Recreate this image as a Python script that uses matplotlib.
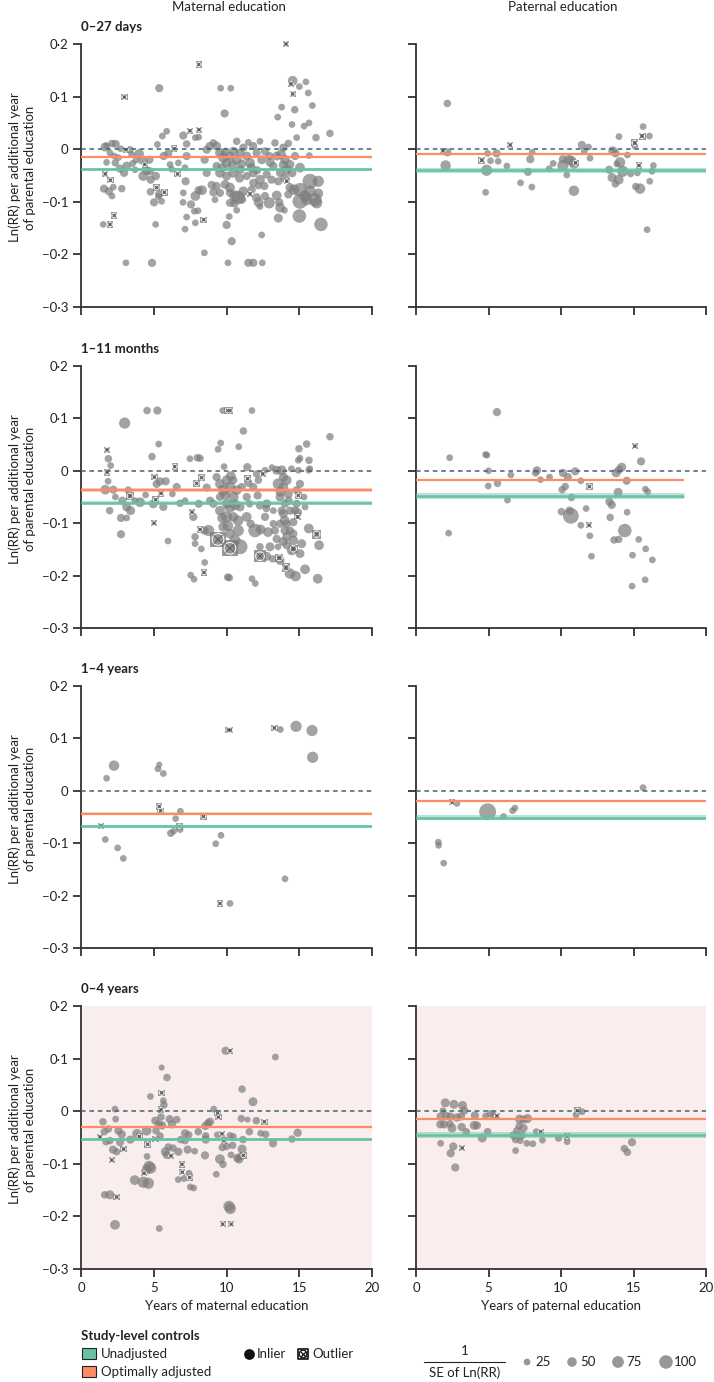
import matplotlib
matplotlib.use("Agg")
import matplotlib.pyplot as plt
from matplotlib.patches import Rectangle

plt.rcParams['font.family'] = ['Lato', 'DejaVu Sans']

# ---- data: (years of education, ln(RR) per extra year, 1/SE) ----
neo_mat_in = [
    (5.38, 0.116, 37), (9.60, 0.116, 25), (10.29, 0.116, 25), (9.87, 0.068, 37), (14.55, 0.130, 52),
    (15.01, 0.119, 25), (15.46, 0.128, 25), (15.62, 0.107, 25), (15.90, 0.083, 25), (14.69, 0.075, 31),
    (13.79, 0.080, 25), (13.52, 0.061, 25), (14.50, 0.047, 25), (14.82, 0.022, 25), (15.33, 0.044, 25),
    (15.67, 0.050, 25), (16.15, 0.022, 31), (17.11, 0.030, 31), (15.69, -0.012, 25), (1.65, 0.004, 44),
    (2.38, 0.010, 37), (3.37, -0.001, 31), (2.73, 0.001, 25), (1.76, -0.025, 25), (2.36, -0.026, 31),
    (2.68, -0.037, 37), (2.96, -0.045, 37), (2.80, -0.075, 31), (2.22, -0.072, 25), (1.58, -0.075, 37),
    (1.92, -0.080, 37), (2.13, -0.089, 25), (1.53, -0.143, 25), (3.09, -0.216, 25), (4.88, -0.216, 37),
    (3.99, -0.009, 52), (4.22, -0.022, 37), (4.70, -0.020, 37), (4.28, -0.051, 52), (4.51, -0.041, 44),
    (4.74, -0.042, 37), (4.79, -0.058, 37), (5.15, -0.051, 37), (5.25, 0.009, 25), (5.59, 0.025, 25),
    (5.89, 0.034, 25), (5.68, -0.013, 37), (6.00, -0.008, 37), (6.12, -0.029, 25), (6.23, -0.038, 25),
    (6.69, -0.026, 25), (4.77, -0.081, 31), (5.02, -0.101, 37), (5.38, -0.085, 37), (5.13, -0.143, 25),
    (5.32, -0.090, 25), (5.54, -0.099, 25), (7.03, 0.026, 37), (7.26, 0.010, 31), (7.26, -0.013, 37),
    (7.15, -0.035, 25), (7.19, -0.061, 37), (7.03, -0.083, 25), (7.01, -0.101, 25), (7.26, -0.129, 25),
    (7.15, -0.152, 25), (7.56, -0.105, 37), (7.86, -0.089, 52), (8.09, -0.078, 37), (7.79, -0.118, 25),
    (8.04, -0.117, 25), (7.86, -0.140, 25), (8.48, -0.197, 25), (8.50, -0.020, 37), (8.84, 0.006, 37),
    (8.64, -0.045, 37), (8.98, -0.068, 37), (9.10, -0.082, 37), (8.32, -0.078, 52), (8.09, 0.023, 25),
    (7.86, 0.022, 25), (9.32, 0.006, 44), (9.55, -0.007, 52), (9.78, -0.016, 60), (10.01, -0.026, 52),
    (10.24, -0.013, 44), (10.47, -0.004, 44), (10.70, -0.020, 52), (10.93, -0.007, 44), (11.16, 0.003, 37),
    (11.39, -0.013, 44), (11.62, -0.026, 52), (11.84, 0.006, 37), (12.07, -0.007, 37), (12.42, -0.020, 44),
    (12.65, -0.004, 37), (12.94, -0.013, 37), (13.45, -0.013, 44), (13.75, -0.010, 52), (14.02, -0.020, 52),
    (14.36, -0.029, 44), (14.71, -0.013, 37), (15.05, -0.035, 52), (13.22, -0.032, 37), (13.68, -0.045, 37),
    (14.14, -0.039, 52), (9.32, -0.032, 37), (9.55, -0.045, 52), (10.01, -0.051, 44), (10.47, -0.045, 52),
    (10.93, -0.039, 44), (11.39, -0.051, 37), (11.84, -0.045, 44), (12.30, -0.058, 52), (12.76, -0.048, 37),
    (13.10, -0.058, 37), (13.56, -0.061, 37), (9.90, -0.067, 44), (10.24, -0.073, 52), (10.58, -0.089, 69),
    (10.81, -0.092, 100), (10.24, -0.083, 37), (9.55, -0.083, 37), (11.16, -0.080, 52), (11.73, -0.077, 37),
    (12.07, -0.092, 44), (12.65, -0.089, 37), (12.21, -0.101, 52), (12.94, -0.102, 69), (9.32, -0.070, 37),
    (9.21, -0.096, 25), (10.54, -0.103, 37), (10.24, -0.102, 37), (10.70, -0.116, 25), (10.19, -0.128, 25),
    (10.01, -0.144, 37), (10.36, -0.175, 37), (10.10, -0.216, 25), (11.50, -0.216, 37), (11.84, -0.216, 37),
    (12.46, -0.216, 25), (12.30, -0.109, 25), (12.42, -0.163, 25), (11.07, -0.096, 37), (12.19, -0.070, 25),
    (11.84, -0.064, 37), (13.45, -0.088, 52), (13.63, -0.101, 37), (13.68, -0.111, 52), (13.56, -0.131, 44),
    (13.98, -0.116, 25), (15.05, -0.077, 100), (15.51, -0.096, 69), (15.74, -0.061, 123), (16.31, -0.061, 69),
    (16.08, -0.096, 100), (15.74, -0.080, 69), (15.01, -0.127, 100), (16.49, -0.143, 100), (15.40, -0.089, 69),
    (14.64, -0.077, 60), (15.05, -0.099, 123), (14.25, -0.086, 37), (14.36, -0.073, 44), (16.31, -0.084, 52),
    (16.20, -0.102, 69), (1.99, -0.007, 25), (2.29, -0.013, 25), (2.57, -0.016, 25), (3.48, -0.010, 25),
    (3.78, -0.021, 25), (3.55, -0.027, 25), (3.14, -0.032, 44), (3.71, -0.039, 25), (1.76, 0.007, 25),
    (2.13, 0.011, 31), (8.64, -0.001, 37), (9.10, 0.012, 31), (10.70, 0.015, 31), (11.50, 0.013, 25),
    (12.30, 0.015, 25), (13.33, 0.012, 31), (13.91, 0.003, 37), (14.25, 0.011, 31),
    (9.70, -0.035, 44), (10.40, -0.030, 52), (11.05, -0.028, 44), (11.70, -0.035, 44), (12.10, -0.040, 37),
    (13.00, -0.025, 44), (13.90, -0.030, 44), (14.50, -0.045, 44), (14.00, -0.055, 44), (9.90, -0.005, 37),
    (10.90, -0.055, 44), (12.60, -0.070, 37),
]
neo_mat_out = [
    (14.09, 0.200, 20), (8.09, 0.161, 20), (2.98, 0.099, 20), (2.29, -0.126, 20), (1.99, -0.143, 20),
    (8.43, -0.134, 20), (11.62, -0.085, 20), (14.55, 0.105, 20), (14.43, 0.124, 20), (1.67, -0.047, 20),
    (2.02, -0.059, 20), (6.39, 0.001, 20), (5.73, -0.082, 20), (6.64, -0.047, 20), (7.49, 0.035, 20),
    (8.11, 0.037, 20), (4.38, -0.029, 20), (3.09, -0.001, 20), (14.14, -0.061, 20), (5.20, -0.073, 20),
]
neo_pat_in = [
    (2.16, 0.087, 31), (2.16, -0.006, 37), (2.04, -0.031, 60), (4.80, -0.082, 25), (4.87, -0.040, 69),
    (4.94, -0.008, 25), (5.14, -0.022, 25), (5.56, -0.008, 37), (5.67, -0.023, 25), (6.27, -0.032, 25),
    (7.21, -0.064, 25), (7.72, -0.043, 37), (7.88, -0.019, 37), (8.01, -0.006, 25), (7.99, -0.072, 25),
    (9.18, -0.037, 25), (9.46, -0.027, 25), (10.13, -0.031, 69), (10.13, -0.019, 37), (10.40, -0.049, 25),
    (10.54, -0.020, 52), (10.72, -0.022, 52), (10.89, -0.028, 52), (10.89, -0.079, 60), (11.44, 0.008, 37),
    (11.60, -0.004, 25), (11.90, 0.004, 25), (12.00, -0.017, 25), (13.32, -0.039, 37), (13.57, -0.003, 44),
    (13.76, -0.008, 37), (14.00, 0.024, 25), (13.85, -0.028, 25), (14.07, -0.025, 60), (14.26, -0.042, 69),
    (13.52, -0.054, 44), (13.98, -0.058, 52), (13.75, -0.066, 31), (14.58, -0.011, 25), (14.81, -0.047, 25),
    (15.16, -0.071, 31), (15.45, -0.075, 60), (15.27, -0.045, 25), (15.09, 0.006, 25), (15.66, 0.043, 25),
    (16.10, 0.025, 25), (16.37, -0.031, 25), (16.28, -0.042, 25), (16.12, -0.061, 25), (15.94, -0.153, 25),
]
neo_pat_out = [
    (1.86, -0.003, 20), (4.54, -0.021, 25), (6.50, 0.008, 20), (11.00, -0.026, 20), (15.09, 0.012, 25),
    (15.59, 0.025, 25), (15.38, -0.031, 20),
]

inf_mat_in = [
    (3.00, 0.091, 69), (4.54, 0.115, 31), (5.25, 0.115, 37), (11.75, 0.115, 25), (5.34, 0.051, 25),
    (4.88, 0.027, 31), (1.88, 0.023, 31), (2.04, 0.010, 25), (1.86, -0.020, 25), (1.67, -0.036, 52),
    (2.22, -0.036, 37), (1.97, -0.076, 31), (2.75, -0.090, 37), (2.75, -0.121, 37), (3.14, -0.090, 25),
    (2.36, -0.050, 25), (2.84, -0.057, 37), (3.14, -0.069, 44), (3.41, -0.076, 44), (3.25, -0.037, 31),
    (3.71, -0.057, 25), (4.06, -0.060, 52), (4.44, -0.046, 25), (4.97, -0.063, 44), (5.20, -0.025, 37),
    (5.43, -0.020, 37), (5.82, -0.020, 37), (5.66, -0.069, 37), (5.98, -0.134, 25), (6.28, -0.044, 25),
    (6.58, -0.031, 37), (6.80, -0.062, 31), (7.15, -0.057, 25), (7.49, 0.023, 25), (8.00, 0.025, 31),
    (8.18, 0.024, 31), (8.09, -0.063, 37), (7.72, -0.088, 37), (7.84, -0.126, 31), (7.84, -0.139, 25),
    (8.27, -0.149, 25), (8.50, -0.175, 25), (7.54, -0.199, 25), (7.77, -0.207, 25), (8.50, -0.114, 37),
    (8.64, -0.032, 37), (8.87, -0.057, 37), (8.77, -0.114, 69), (9.10, -0.063, 37), (9.42, 0.041, 25),
    (9.60, 0.053, 25), (9.83, 0.008, 25), (9.74, 0.115, 25), (10.84, 0.046, 25), (11.16, 0.076, 31),
    (11.43, 0.007, 37), (11.59, -0.063, 31), (9.32, -0.012, 37), (9.55, -0.025, 52), (9.78, -0.037, 69),
    (10.01, -0.018, 52), (10.24, -0.031, 60), (10.47, -0.050, 60), (10.70, -0.037, 52), (10.24, -0.069, 69),
    (10.01, -0.088, 69), (10.47, -0.088, 52), (10.81, -0.114, 69), (10.58, -0.133, 69), (10.93, -0.145, 123),
    (9.78, -0.107, 52), (9.55, -0.076, 52), (10.93, -0.069, 44), (11.39, -0.088, 52), (10.24, -0.120, 52),
    (11.04, -0.031, 37), (10.01, -0.063, 52), (9.55, -0.050, 37), (11.39, -0.050, 37), (10.47, -0.018, 37),
    (12.07, -0.006, 31), (11.84, -0.031, 37), (12.14, -0.047, 37), (11.96, -0.114, 100), (12.35, -0.112, 52),
    (12.65, -0.088, 37), (11.66, -0.101, 37), (12.74, -0.072, 31), (11.50, -0.023, 37), (12.19, -0.018, 31),
    (12.76, -0.063, 44), (12.30, -0.066, 37), (12.30, -0.145, 31), (12.99, -0.145, 44), (12.76, -0.163, 44),
    (10.08, -0.203, 31), (10.19, -0.204, 31), (11.75, -0.206, 25), (11.98, -0.215, 25), (13.33, -0.114, 37),
    (13.45, -0.130, 37), (13.45, 0.001, 44), (13.79, 0.001, 52), (13.91, -0.012, 44), (13.56, -0.025, 69),
    (13.91, -0.031, 52), (14.14, -0.018, 52), (14.25, -0.044, 44), (13.68, -0.050, 44), (14.02, -0.063, 37),
    (14.36, -0.076, 37), (13.91, -0.082, 44), (14.14, -0.101, 37), (14.36, -0.114, 37), (14.59, -0.120, 37),
    (14.14, -0.126, 44), (14.59, -0.133, 52), (14.14, -0.142, 37), (14.02, -0.114, 44), (14.59, -0.098, 37),
    (14.71, -0.076, 37), (13.68, -0.101, 37), (13.54, -0.145, 25), (14.36, -0.196, 60), (14.75, -0.201, 60),
    (15.40, -0.188, 52), (16.27, -0.206, 52), (16.36, -0.142, 52), (15.65, -0.110, 52), (14.94, 0.020, 25),
    (15.05, 0.024, 25), (14.98, 0.042, 31), (15.51, 0.051, 31), (15.67, 0.020, 31), (15.72, 0.004, 25),
    (15.65, 0.001, 25), (17.11, 0.065, 31), (14.94, 0.001, 25), (15.05, -0.025, 37), (15.33, -0.050, 25),
    (14.82, -0.063, 37), (15.40, -0.069, 25), (14.91, -0.079, 37), (15.17, -0.139, 44), (13.17, -0.168, 31),
    (13.68, -0.171, 44), (14.48, -0.152, 52), (13.13, 0.006, 25), (13.22, -0.101, 31), (12.65, 0.001, 25),
    (14.46, 0.004, 25), (14.82, -0.037, 37), (14.27, -0.057, 37), (13.79, -0.076, 37), (15.05, -0.158, 44),
    (12.85, -0.117, 52), (13.22, -0.076, 25),
    (9.90, -0.045, 60), (10.30, -0.010, 52), (10.60, -0.065, 60), (9.70, -0.090, 52), (10.80, -0.095, 60),
    (10.10, -0.105, 60), (13.70, -0.040, 52), (14.00, -0.095, 52), (13.90, -0.135, 44),
]
inf_mat_out = [
    (1.79, 0.040, 20), (1.79, -0.003, 20), (3.37, -0.048, 31), (5.04, -0.012, 20), (5.13, -0.055, 20),
    (5.02, -0.100, 20), (6.44, 0.008, 20), (7.63, -0.079, 20), (8.29, -0.013, 20), (7.95, -0.024, 20),
    (8.18, -0.112, 20), (8.45, -0.194, 20), (10.08, 0.115, 20), (10.24, 0.115, 20), (9.42, -0.131, 123),
    (10.24, -0.148, 123), (12.30, -0.163, 69), (13.63, -0.166, 31), (14.09, -0.185, 37), (14.59, -0.149, 37),
    (14.89, -0.088, 25), (16.20, -0.121, 37), (11.45, -0.015, 20), (12.49, -0.006, 20), (14.94, -0.047, 20),
    (5.50, -0.043, 20),
]
inf_pat_in = [
    (2.32, 0.025, 25), (2.25, -0.119, 25), (5.58, 0.112, 37), (4.80, 0.031, 25), (4.89, 0.030, 25),
    (5.00, 0.000, 25), (4.98, -0.029, 25), (5.62, -0.024, 31), (6.31, -0.056, 25), (6.54, -0.008, 25),
    (8.34, 0.001, 37), (8.25, -0.004, 31), (8.59, -0.017, 25), (9.21, -0.012, 25), (10.13, -0.004, 37),
    (10.47, -0.012, 37), (10.98, -0.001, 37), (11.37, -0.019, 25), (10.29, -0.030, 31), (10.08, -0.036, 31),
    (10.72, -0.051, 31), (10.03, -0.078, 31), (10.59, -0.076, 37), (10.68, -0.086, 136), (11.37, -0.104, 25),
    (11.73, -0.072, 25), (11.99, -0.124, 25), (12.10, -0.163, 25), (13.80, -0.004, 44), (14.19, 0.007, 44),
    (14.00, 0.002, 37), (14.53, -0.019, 37), (13.94, -0.041, 44), (13.34, -0.059, 37), (13.50, -0.065, 37),
    (13.39, -0.089, 31), (14.56, -0.079, 25), (14.40, -0.114, 100), (13.66, -0.132, 31), (13.98, -0.131, 31),
    (14.93, -0.161, 25), (14.90, -0.220, 25), (15.52, 0.018, 37), (15.82, -0.035, 25), (15.98, -0.040, 25),
    (15.36, -0.131, 25), (15.84, -0.149, 25), (16.30, -0.170, 25), (15.80, -0.208, 25),
]
inf_pat_out = [(15.09, 0.047, 20), (11.96, -0.030, 20), (11.94, -0.104, 20)]

chi_mat_in = [
    (1.67, -0.093, 25), (1.76, 0.024, 25), (2.27, 0.048, 60), (2.52, -0.109, 25), (2.91, -0.129, 25),
    (5.29, 0.042, 25), (5.38, 0.050, 20), (5.66, 0.033, 25), (6.51, -0.053, 25), (6.17, -0.081, 31),
    (6.37, -0.077, 25), (6.83, -0.039, 25), (6.81, -0.074, 25), (9.26, -0.101, 25), (9.62, -0.085, 25),
    (10.24, -0.215, 25), (13.70, 0.117, 25), (14.78, 0.123, 69), (15.88, 0.115, 69), (15.92, 0.064, 69),
    (14.02, -0.168, 25),
]
chi_mat_out = [
    (1.37, -0.067, 20), (5.38, -0.030, 20), (5.47, -0.038, 20), (6.76, -0.068, 20), (8.41, -0.049, 20),
    (9.55, -0.215, 20), (10.13, 0.116, 20), (10.26, 0.116, 20), (13.29, 0.120, 20),
]
chi_pat_in = [
    (1.54, -0.098, 25), (1.56, -0.104, 25), (1.91, -0.138, 25), (2.82, -0.024, 25), (4.94, -0.040, 156),
    (6.04, -0.049, 25), (6.66, -0.038, 25), (6.82, -0.033, 25), (15.66, 0.006, 25),
]
chi_pat_out = [(2.48, -0.022, 20)]

u5_mat_in = [
    (1.51, -0.020, 31), (1.60, -0.039, 31), (1.88, -0.034, 31), (1.72, -0.058, 31), (2.34, 0.004, 25),
    (2.38, -0.015, 25), (2.20, -0.073, 37), (1.99, -0.056, 31), (2.57, -0.037, 37), (2.80, -0.044, 37),
    (2.68, -0.059, 37), (2.45, -0.077, 31), (1.63, -0.159, 31), (1.99, -0.159, 44), (2.34, -0.216, 52),
    (3.85, -0.043, 52), (3.39, -0.054, 37), (4.51, -0.037, 52), (3.69, -0.131, 52), (4.28, -0.135, 69),
    (4.63, -0.137, 69), (4.67, -0.105, 69), (4.79, -0.108, 69), (4.51, -0.111, 52), (4.54, -0.086, 25),
    (4.77, 0.028, 25), (5.11, -0.018, 37), (5.36, -0.025, 37), (5.15, -0.037, 31), (5.43, -0.047, 31),
    (5.57, -0.027, 37), (5.50, -0.011, 31), (5.54, 0.083, 20), (5.91, 0.064, 31), (5.66, 0.020, 25),
    (5.70, 0.012, 31), (5.38, -0.223, 25), (6.09, -0.015, 37), (6.25, -0.025, 37), (5.80, -0.077, 44),
    (5.89, -0.083, 37), (6.00, -0.068, 31), (6.32, -0.070, 31), (6.58, -0.016, 31), (6.85, -0.054, 31),
    (6.69, -0.077, 37), (6.69, -0.130, 25), (7.08, -0.128, 25), (7.15, -0.056, 31), (7.33, -0.073, 37),
    (7.15, -0.042, 37), (7.40, -0.045, 31), (7.42, -0.118, 25), (7.51, -0.144, 25), (7.74, -0.146, 25),
    (7.81, -0.076, 25), (8.06, -0.039, 31), (8.57, -0.047, 31), (8.55, -0.028, 37), (8.52, -0.084, 37),
    (8.57, -0.054, 37), (8.73, -0.023, 37), (8.87, -0.020, 37), (9.12, 0.004, 25), (9.37, -0.045, 25),
    (9.55, -0.091, 52), (9.76, -0.101, 31), (9.30, -0.120, 25), (9.71, -0.069, 31), (9.94, 0.115, 37),
    (10.01, -0.067, 31), (10.24, -0.046, 25), (10.42, -0.065, 31), (10.31, -0.083, 25), (10.47, -0.048, 25),
    (10.74, -0.089, 37), (10.86, -0.091, 44), (10.97, -0.086, 31), (11.07, -0.072, 44), (10.17, -0.181, 69),
    (10.26, -0.185, 69), (11.07, 0.042, 31), (11.02, -0.014, 31), (11.13, -0.054, 31), (11.45, -0.016, 20),
    (11.57, -0.039, 31), (11.82, 0.018, 44), (12.05, -0.018, 31), (12.35, -0.042, 25), (12.69, -0.044, 31),
    (13.20, -0.061, 37), (13.36, 0.103, 25), (14.50, -0.053, 31), (14.89, -0.041, 37),
]
u5_mat_out = [
    (1.31, -0.049, 20), (2.11, -0.093, 20), (2.93, -0.072, 20), (2.45, -0.163, 20), (4.01, -0.048, 20),
    (4.33, -0.118, 20), (4.58, -0.063, 20), (5.50, 0.003, 20), (5.54, 0.035, 20), (5.11, -0.053, 20),
    (6.19, -0.085, 20), (6.96, -0.116, 20), (6.94, -0.101, 20), (7.47, -0.126, 20), (9.39, -0.004, 20),
    (9.44, -0.011, 20), (9.69, -0.043, 20), (9.81, -0.056, 20), (9.74, -0.215, 20), (10.33, -0.215, 20),
    (10.24, 0.115, 20), (11.16, -0.084, 20), (12.60, -0.020, 20),
]
u5_pat_in = [
    (2.02, 0.016, 44), (2.62, 0.013, 44), (3.21, 0.011, 44), (3.33, 0.001, 37), (1.86, 0.001, 25),
    (1.70, -0.010, 37), (2.09, -0.009, 37), (2.37, -0.010, 37), (2.82, -0.012, 37), (3.10, -0.010, 37),
    (1.68, -0.025, 37), (1.93, -0.025, 37), (2.48, -0.032, 44), (2.34, -0.024, 31), (3.15, -0.030, 37),
    (3.47, -0.039, 31), (4.06, -0.008, 37), (4.02, -0.027, 44), (4.20, -0.027, 37), (4.80, -0.009, 25),
    (5.12, -0.005, 31), (5.35, -0.007, 25), (4.94, -0.039, 31), (4.57, -0.051, 44), (1.70, -0.061, 25),
    (2.57, -0.067, 37), (2.39, -0.080, 37), (2.71, -0.107, 37), (7.14, -0.015, 44), (7.42, -0.016, 37),
    (7.69, -0.014, 44), (7.12, -0.028, 31), (7.42, -0.032, 37), (6.96, -0.037, 31), (6.73, -0.046, 37),
    (7.30, -0.046, 37), (6.87, -0.054, 31), (7.19, -0.056, 25), (7.65, -0.061, 25), (8.06, -0.062, 25),
    (6.87, -0.075, 25), (8.29, -0.039, 25), (8.72, -0.055, 25), (9.83, -0.051, 31), (10.42, -0.058, 25),
    (11.04, -0.007, 25), (11.46, -0.001, 25), (14.37, -0.071, 31), (14.58, -0.078, 31), (14.90, -0.059, 37),
]
u5_pat_out = [(5.58, -0.009, 20), (3.19, -0.070, 20), (8.60, -0.039, 20), (10.42, -0.048, 20), (11.13, 0.001, 20)]

age_groups = ["0–27 days", "1–11 months", "1–4 years", "0–4 years"]
col_titles = ["Maternal education", "Paternal education"]
x_titles = ["Years of maternal education", "Years of paternal education"]
panels_in = [[neo_mat_in, neo_pat_in], [inf_mat_in, inf_pat_in], [chi_mat_in, chi_pat_in], [u5_mat_in, u5_pat_in]]
panels_out = [[neo_mat_out, neo_pat_out], [inf_mat_out, inf_pat_out], [chi_mat_out, chi_pat_out], [u5_mat_out, u5_pat_out]]

# pooled estimates (row by row, maternal then paternal)
unadjusted = [[-0.038, -0.040], [-0.061, -0.048], [-0.0675, -0.051], [-0.053, -0.045]]
unadj_band = [[0.003, 0.005], [0.003, 0.005], [0.003, 0.005], [0.003, 0.005]]
adjusted = [[-0.014, -0.0095], [-0.037, -0.018], [-0.044, -0.020], [-0.030, -0.0146]]
adj_band = [[0.002, 0.002], [0.004, 0.002], [0.003, 0.002], [0.002, 0.002]]
line_end = [[20, 20], [20, 18.5], [20, 20], [20, 20]]

y_ticks = [-0.3, -0.2, -0.1, 0, 0.1, 0.2]
y_ticklabels = ["−0·3", "−0·2", "−0·1", "0", "0·1", "0·2"]
x_ticks = [0, 5, 10, 15, 20]
size_keys = [25, 50, 75, 100]

GREEN = '#66c2a5'
ORANGE = '#fc8d62'
DOT = '#7d7d7d'
AXC = '#333333'
PINK = '#f9eded'
W, H = 714, 1382
SCALE = 0.95  # marker area per unit of 1/SE

fig = plt.figure(figsize=(W / 100, H / 100), dpi=100)

row_top = [44, 366, 686, 1006]
row_bot = [307, 628, 948, 1269]
col_l = [81, 416]
col_r = [372, 706]


def px_axes(l, t, r, b):
    return fig.add_axes([l / W, 1 - b / H, (r - l) / W, (b - t) / H])


def draw_outliers(ax, pts):
    if not pts:
        return
    xs = [p[0] for p in pts]
    ys = [p[1] for p in pts]
    ss = [p[2] * SCALE * 1.1 for p in pts]
    ax.scatter(xs, ys, s=ss, marker='s', color=DOT, alpha=0.8, lw=0, zorder=2, clip_on=False)
    ax.scatter(xs, ys, s=[s * 0.55 for s in ss], marker='o', facecolor='none',
               edgecolor='white', lw=0.7, zorder=2.1, clip_on=False)
    ax.scatter(xs, ys, s=[s * 0.3 for s in ss], marker='x', color='#555555', lw=0.6, zorder=2.2,
               clip_on=False)


for r in range(4):
    for c in range(2):
        ax = px_axes(col_l[c], row_top[r], col_r[c], row_bot[r])
        pin = panels_in[r][c]
        ax.scatter([p[0] for p in pin], [p[1] for p in pin], s=[p[2] * SCALE for p in pin],
                   color=DOT, alpha=0.7, lw=0, zorder=2, clip_on=False)
        draw_outliers(ax, panels_out[r][c])

        xe = line_end[r][c]
        ax.fill_between([0, xe], unadjusted[r][c] - unadj_band[r][c], unadjusted[r][c] + unadj_band[r][c],
                        color=GREEN, alpha=0.45, lw=0, zorder=3)
        ax.hlines(unadjusted[r][c], 0, xe, color=GREEN, lw=1.8, zorder=3.2)
        ax.fill_between([0, xe], adjusted[r][c] - adj_band[r][c], adjusted[r][c] + adj_band[r][c],
                        color=ORANGE, alpha=0.4, lw=0, zorder=3.3)
        ax.hlines(adjusted[r][c], 0, xe, color=ORANGE, lw=1.6, zorder=3.4)
        ax.axhline(0, color='#456272', lw=1.1, ls=(0, (3, 2.5)), zorder=3.5)

        ax.set_xlim(0, 20)
        ax.set_ylim(-0.3, 0.2)
        ax.set_xticks(x_ticks)
        ax.set_yticks(y_ticks)
        for s in ['top', 'right']:
            ax.spines[s].set_visible(False)
        for s in ['left', 'bottom']:
            ax.spines[s].set_color(AXC)
            ax.spines[s].set_linewidth(1.3)
        ax.tick_params(direction='out', length=6, width=1.3, color=AXC, labelsize=9.5,
                       labelcolor='#222222', pad=3)
        if c == 0:
            ax.set_yticklabels(y_ticklabels)
        else:
            ax.set_yticklabels([])
        if r == 3:
            ax.set_facecolor(PINK)
            ax.set_xticklabels([str(v) for v in x_ticks])
            ax.set_xlabel(x_titles[c], fontsize=9.5, color='#222222', labelpad=5)
        else:
            ax.set_xticklabels([])

# overlay for free text and legend
ov = fig.add_axes([0, 0, 1, 1])
ov.set_xlim(0, W)
ov.set_ylim(H, 0)
ov.axis('off')

ov.text(229, 7, col_titles[0], ha='center', va='center', fontsize=9.5, color='#222222')
ov.text(563, 7, col_titles[1], ha='center', va='center', fontsize=9.5, color='#222222')
for r in range(4):
    ov.text(81, row_top[r] - 17, age_groups[r], ha='left', va='center', fontsize=9.5,
            fontweight='bold', color='#222222')
    ov.text(22, (row_top[r] + row_bot[r]) / 2 - 8, "Ln(RR) per additional year\nof parental education",
            rotation=90, ha='center', va='center', fontsize=9.5, color='#222222', linespacing=1.25)

# legend: study-level controls
ov.text(81, 1336, "Study-level controls", ha='left', va='center', fontsize=9.5, fontweight='bold',
        color='#222222')
ov.add_patch(Rectangle((82, 1348), 14, 11, facecolor=GREEN, edgecolor='#222222', lw=0.8))
ov.text(101, 1354, "Unadjusted", ha='left', va='center', fontsize=9.5, color='#222222')
ov.add_patch(Rectangle((82, 1366), 14, 11, facecolor=ORANGE, edgecolor='#222222', lw=0.8))
ov.text(101, 1372, "Optimally adjusted", ha='left', va='center', fontsize=9.5, color='#222222')

ov.scatter([249], [1354], s=60, color='#111111', lw=0)
ov.text(257, 1354, "Inlier", ha='left', va='center', fontsize=9.5, color='#222222')
ov.scatter([303], [1354], s=55, marker='s', facecolor='white', edgecolor='#111111', lw=1.2)
ov.scatter([303], [1354], s=30, marker='o', facecolor='none', edgecolor='#111111', lw=0.9)
ov.scatter([303], [1354], s=18, marker='x', color='#111111', lw=0.9)
ov.text(312, 1354, "Outlier", ha='left', va='center', fontsize=9.5, color='#222222')

# legend: marker size
ov.text(465, 1351, "1", ha='center', va='center', fontsize=9.5, color='#222222')
ov.plot([424, 505], [1362, 1362], color='#222222', lw=0.8)
ov.text(465, 1373, "SE of Ln(RR)", ha='center', va='center', fontsize=9.5, color='#222222')
key_x = [527, 572, 618, 666]
ov.scatter(key_x, [1362] * 4, s=[k * SCALE for k in size_keys], color=DOT, alpha=0.8, lw=0)
for kx, k in zip(key_x, size_keys):
    ov.text(kx + 8, 1362, str(k), ha='left', va='center', fontsize=9.5, color='#222222')

fig.savefig('out.png', dpi=100)
